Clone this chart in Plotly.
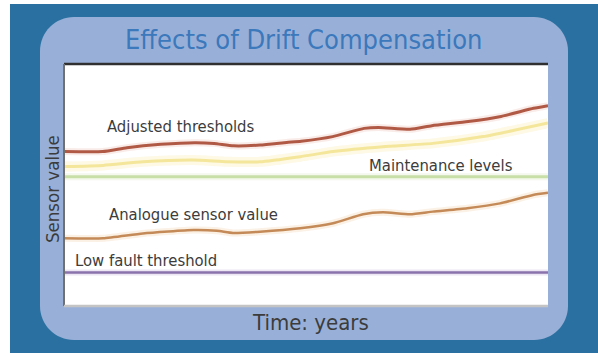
import plotly.graph_objects as go

# Time axis (years) and sensor readings (arbitrary sensor units, 0-100)
years_adjusted_upper = [0, 0.8, 1.3, 2.0, 2.7, 3.1, 3.5, 4.05, 4.6, 4.9, 5.55, 6.2, 6.5, 7.15, 7.6, 8.35, 9.0, 9.7, 10]
adjusted_upper = [63.8, 63.8, 65.4, 66.8, 67.5, 67.2, 66.2, 66.5, 67.6, 68.1, 70.0, 73.4, 73.8, 73.0, 74.5, 76.2, 78.2, 81.7, 82.8]

years_adjusted_lower = [0, 0.81, 1.63, 2.67, 3.37, 4.05, 4.88, 5.56, 6.59, 7.62, 8.66, 10]
adjusted_lower = [57.6, 58.1, 59.6, 60.3, 59.6, 59.6, 61.7, 63.8, 65.8, 67.2, 70.0, 75.6]

years_sensor = [0, 0.81, 1.63, 2.67, 3.16, 3.49, 4.05, 4.88, 5.56, 6.18, 6.59, 7.15, 7.62, 8.33, 9.01, 9.69, 10]
sensor_value = [28.0, 28.0, 30.0, 31.4, 31.1, 30.2, 30.7, 32.1, 34.2, 37.9, 38.7, 37.9, 39.0, 40.4, 42.4, 45.9, 46.8]

years_span = [0, 10]
maintenance_level = [53.4, 53.4]
low_fault_threshold = [13.8, 13.8]

labels = ["Adjusted thresholds", "Maintenance levels", "Analogue sensor value", "Low fault threshold"]
label_x = [0.85, 6.26, 0.89, 0.19]
label_y = [74.0, 57.9, 37.8, 19.0]

FONT = "Liberation Sans Narrow, Arial Narrow, DejaVu Sans Condensed, sans-serif"
DARK_BLUE = "#2a70a0"
PANEL_BLUE = "#98b0d8"
TITLE_BLUE = "#3b78bc"
TEXT_GREY = "#3c3c3c"

W, H = 598, 356
ML, MR, MT, MB = 64, 50, 64, 50
PW, PH = W - ML - MR, H - MT - MB


def px_to_paper(x, y):
    return (x - ML) / PW, 1 - (y - MT) / PH


def rounded_rect(x0, y0, x1, y1, r):
    k = 0.5523 * r

    def P(x, y):
        a, b = px_to_paper(x, y)
        return f"{a:.5f},{b:.5f}"

    path = f"M {P(x0 + r, y0)} L {P(x1 - r, y0)} "
    path += f"C {P(x1 - r + k, y0)} {P(x1, y0 + r - k)} {P(x1, y0 + r)} "
    path += f"L {P(x1, y1 - r)} "
    path += f"C {P(x1, y1 - r + k)} {P(x1 - r + k, y1)} {P(x1 - r, y1)} "
    path += f"L {P(x0 + r, y1)} "
    path += f"C {P(x0 + r - k, y1)} {P(x0, y1 - r + k)} {P(x0, y1 - r)} "
    path += f"L {P(x0, y0 + r)} "
    path += f"C {P(x0, y0 + r - k)} {P(x0 + r - k, y0)} {P(x0 + r, y0)} Z"
    return path


fig = go.Figure()


def glow_line(x, y, color, width, halo, halo_width, halo_opacity):
    fig.add_trace(go.Scatter(x=x, y=y, mode="lines", hoverinfo="skip",
                             line=dict(color=halo, width=halo_width, shape="spline", smoothing=0.5),
                             opacity=halo_opacity, showlegend=False))
    fig.add_trace(go.Scatter(x=x, y=y, mode="lines", hoverinfo="skip",
                             line=dict(color=color, width=width, shape="spline", smoothing=0.5),
                             showlegend=False))


glow_line(years_span, low_fault_threshold, "#8a72ac", 2.5, "#e2d8ee", 6, 0.6)
glow_line(years_span, maintenance_level, "#c8dfa8", 3, "#eaf2dc", 7, 0.5)
glow_line(years_adjusted_lower, adjusted_lower, "#f4e69a", 3, "#fcf6d4", 10, 0.6)
glow_line(years_sensor, sensor_value, "#c48a58", 2.5, "#f8e4cc", 7, 0.5)
glow_line(years_adjusted_upper, adjusted_upper, "#b05a46", 3, "#f4dad2", 7, 0.5)

annotations = []
for text, x, y in zip(labels, label_x, label_y):
    annotations.append(dict(x=x, y=y, xref="x", yref="y", text=text, showarrow=False,
                            xanchor="left", yanchor="middle",
                            font=dict(family=FONT, size=16.5, color=TEXT_GREY)))

tx, ty = px_to_paper(303, 40)
annotations.append(dict(x=tx, y=ty, xref="paper", yref="paper", text="Effects of Drift Compensation",
                        showarrow=False, xanchor="center", yanchor="middle",
                        font=dict(family=FONT, size=27, color=TITLE_BLUE)))
sx, sy = px_to_paper(52, 189)
annotations.append(dict(x=sx, y=sy, xref="paper", yref="paper", text="Sensor value", textangle=-90,
                        showarrow=False, xanchor="center", yanchor="middle",
                        font=dict(family=FONT, size=18.5, color=TEXT_GREY)))
bx, by = px_to_paper(310, 322)
annotations.append(dict(x=bx, y=by, xref="paper", yref="paper", text="Time: years",
                        showarrow=False, xanchor="center", yanchor="middle",
                        font=dict(family=FONT, size=22, color=TEXT_GREY)))

shapes = []
# dark outer backdrop
x0p, y0p = px_to_paper(10, 4)
x1p, y1p = px_to_paper(598, 353)
shapes.append(dict(type="rect", xref="paper", yref="paper", x0=x0p, y0=y1p, x1=x1p, y1=y0p,
                   fillcolor=DARK_BLUE, line=dict(width=0), layer="below"))
# rounded light-blue panel
shapes.append(dict(type="path", xref="paper", yref="paper", path=rounded_rect(40, 17, 568, 340, 34),
                   fillcolor=PANEL_BLUE, line=dict(width=0), layer="below"))
# white plotting area
shapes.append(dict(type="rect", xref="paper", yref="paper", x0=0, y0=0, x1=1, y1=1,
                   fillcolor="white", line=dict(width=0), layer="below"))
# plot frame: dark top edge, grey left and bottom edges
shapes.append(dict(type="line", xref="paper", yref="paper", x0=0, y0=1, x1=1, y1=1,
                   line=dict(color="#303030", width=2.5)))
shapes.append(dict(type="line", xref="paper", yref="paper", x0=0, y0=0, x1=0, y1=1,
                   line=dict(color="#707070", width=2)))
shapes.append(dict(type="line", xref="paper", yref="paper", x0=0, y0=0, x1=1, y1=0,
                   line=dict(color="#c4c4c4", width=2.5)))

fig.update_layout(
    width=W, height=H,
    margin=dict(l=ML, r=MR, t=MT, b=MB, pad=0),
    paper_bgcolor="white", plot_bgcolor="rgba(0,0,0,0)",
    xaxis=dict(range=[0, 10], showgrid=False, zeroline=False, showticklabels=False, ticks="", showline=False),
    yaxis=dict(range=[0, 100], showgrid=False, zeroline=False, showticklabels=False, ticks="", showline=False),
    shapes=shapes, annotations=annotations, showlegend=False,
)

fig.write_html("out.html", config={"displayModeBar": False})
